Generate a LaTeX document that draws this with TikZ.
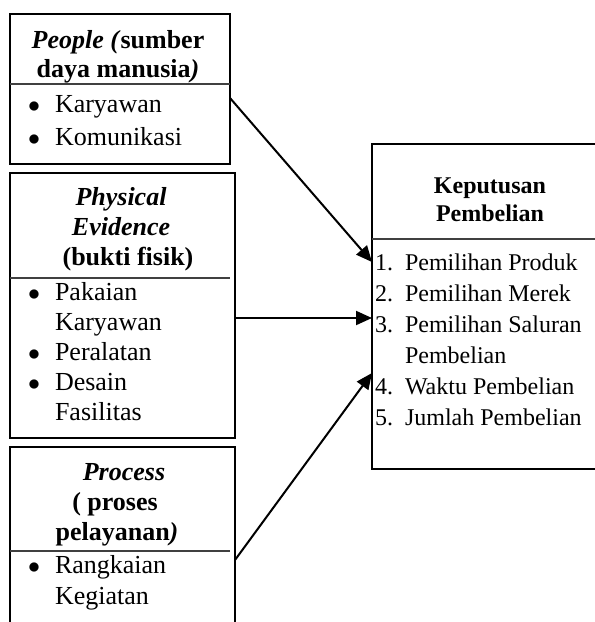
\documentclass[tikz,border=0pt]{standalone}
\usepackage{fontspec}
\setmainfont{Liberation Serif}
\usetikzlibrary{arrows.meta}
\newcommand{\bul}{\makebox[13.5pt][l]{$\bullet$}}
\begin{document}
\begin{tikzpicture}[x=0.5pt,y=-0.5pt,
 box/.style={draw,line width=0.9pt,inner sep=0,outer sep=0,anchor=north west},
 divline/.style={line width=0.6pt,black!75},
 txt/.style={inner sep=0,outer sep=0,anchor=base,font=\fontsize{12}{14}\selectfont},
 ltxt/.style={txt,anchor=base west},
 btxt/.style={txt,font=\fontsize{13}{15}\selectfont},
 bltxt/.style={btxt,anchor=base west},
 arr/.style={line width=1pt,-{Triangle[length=8pt,width=7pt]}}]
\useasboundingbox (0,0) rectangle (595,622);
\clip (0,0) rectangle (595,622);
% boxes
\node[box,minimum width=110pt,minimum height=75pt] (b1) at (10,14) {};
\node[box,minimum width=112.5pt,minimum height=132.5pt] (b2) at (10,173) {};
\node[box,minimum width=112.5pt,minimum height=100pt] (b3) at (10,447) {};
\node[box,minimum width=125pt,minimum height=162.5pt] (b4) at (372,144) {};
% dividers
\draw[divline] (b1.west |- 0,84) -- (230,84);
\draw[divline] (b2.west |- 0,278) -- (230,278);
\draw[divline] (b3.west |- 0,551) -- (230,551);
\draw[divline] (b4.west |- 0,239) -- (610,239);
% box 1
\node[btxt] (t1a) at (118,48) {\textbf{\textit{People (}sumber}};
\node[btxt] (t1b) at (118,77) {\textbf{daya manusia\textit{)}}};
\node[bltxt] (t1c) at (28,112) {\bul Karyawan};
\node[bltxt] (t1d) at (28,145) {\bul Komunikasi};
% box 2
\node[btxt] (t2a) at (121,205) {\textbf{\textit{Physical}}};
\node[btxt] (t2b) at (121,235) {\textbf{\textit{Evidence}}};
\node[btxt] (t2c) at (128,265) {\textbf{(bukti fisik)}};
\node[bltxt] (t2d) at (28,300) {\bul Pakaian};
\node[bltxt] (t2e) at (55,330) {Karyawan};
\node[bltxt] (t2f) at (28,360) {\bul Peralatan};
\node[bltxt] (t2g) at (28,390) {\bul Desain};
\node[bltxt] (t2h) at (55,420) {Fasilitas};
% box 3
\node[btxt] (t3a) at (124,480) {\textbf{\textit{Process}}};
\node[btxt] (t3b) at (115,510) {\textbf{( proses}};
\node[btxt] (t3c) at (117,540) {\textbf{pelayanan\textit{)}}};
\node[bltxt] (t3d) at (28,573) {\bul Rangkaian};
\node[bltxt] (t3e) at (55,604) {Kegiatan};
% box 4
\node[txt] (t4a) at (490,193) {\textbf{Keputusan}};
\node[txt] (t4b) at (490,221) {\textbf{Pembelian}};
\node[ltxt] (t4c) at (375,270) {\makebox[15pt][l]{1.}Pemilihan Produk};
\node[ltxt] (t4d) at (375,301) {\makebox[15pt][l]{2.}Pemilihan Merek};
\node[ltxt] (t4e) at (375,332) {\makebox[15pt][l]{3.}Pemilihan Saluran};
\node[ltxt] (t4f) at (405,363) {Pembelian};
\node[ltxt] (t4g) at (375,394) {\makebox[15pt][l]{4.}Waktu Pembelian};
\node[ltxt] (t4h) at (375,425) {\makebox[15pt][l]{5.}Jumlah Pembelian};
% arrows
\draw[arr] (b1.east |- 0,98) -- (b4.west |- 0,262);
\draw[arr] (b2.east |- 0,318) -- (b4.west |- 0,318);
\draw[arr] (b3.east |- 0,560) -- (b4.west |- 0,373);
\end{tikzpicture}
\end{document}
